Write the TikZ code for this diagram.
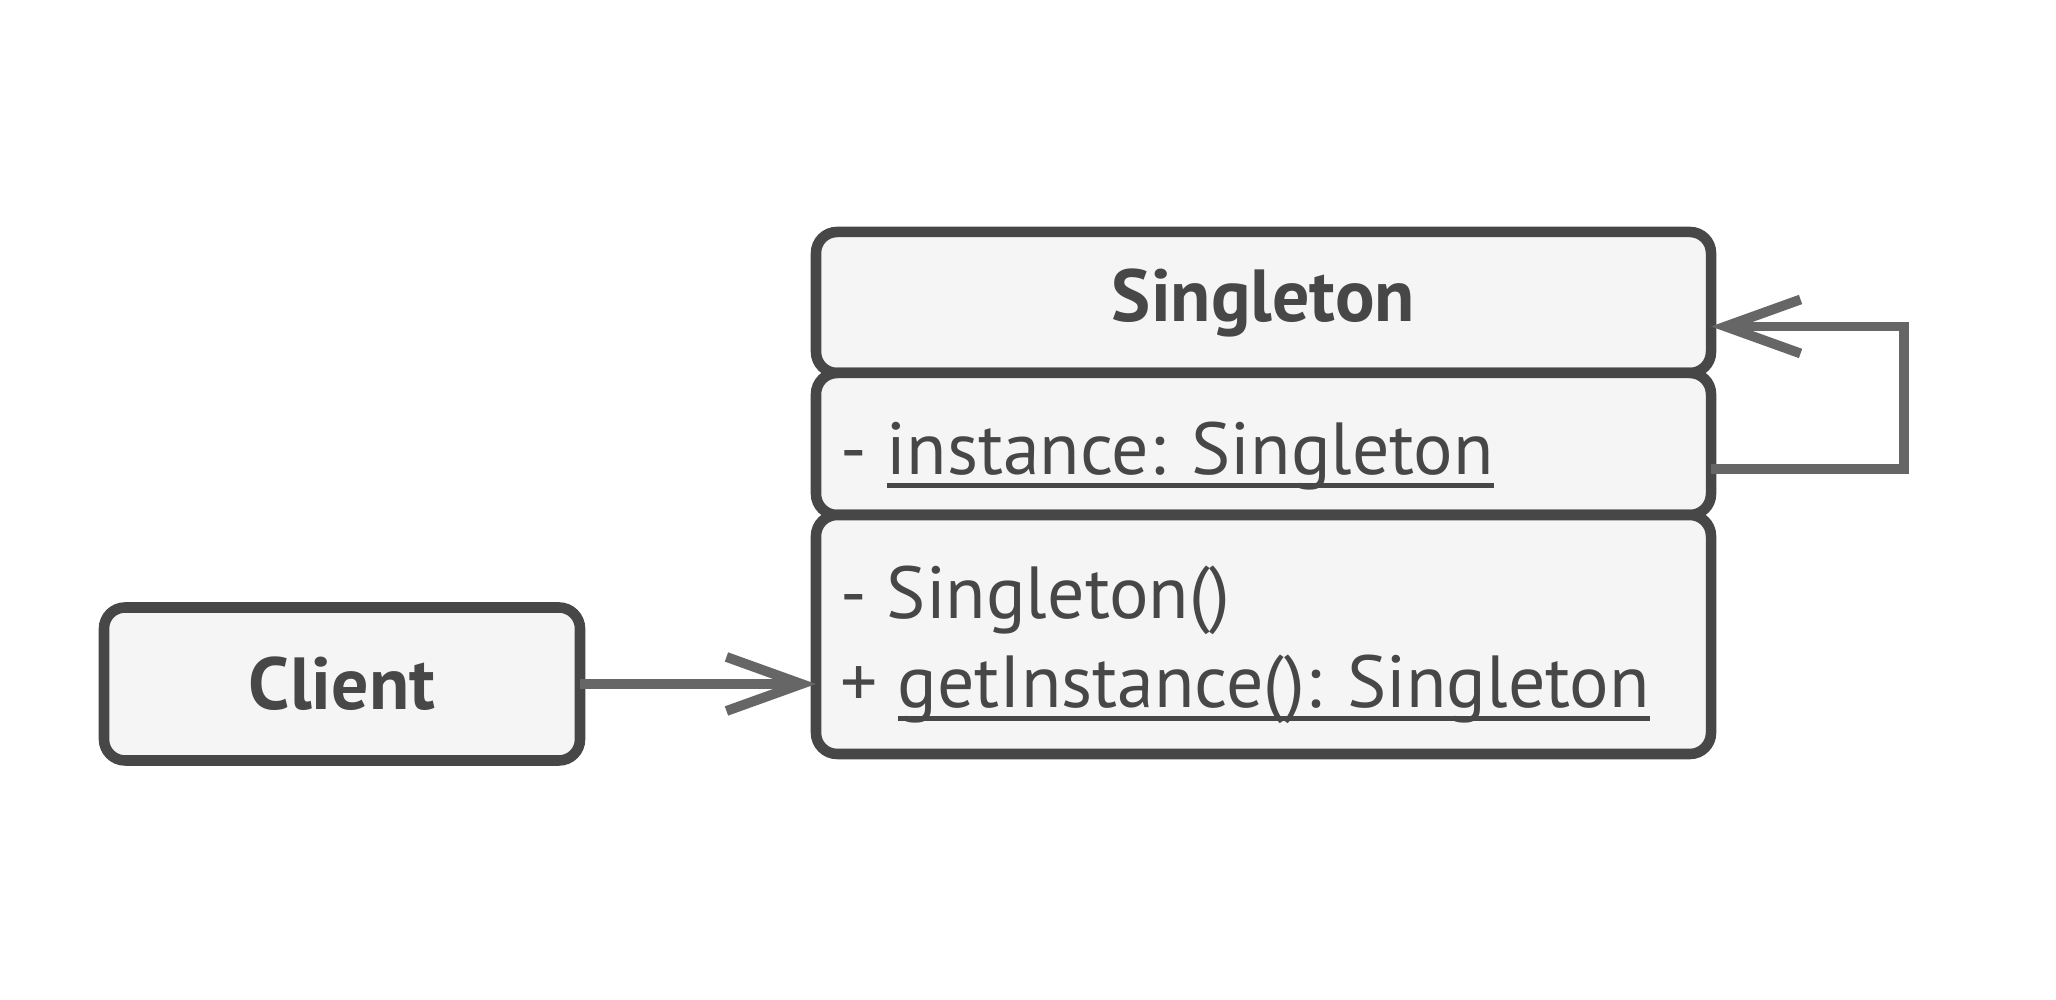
\documentclass[tikz,border=0pt]{standalone}
\usepackage{fontspec}
\setmainfont{PT Sans}
\usetikzlibrary{positioning,arrows.meta}
\newcommand\staticline[1]{\setbox0\hbox{#1}\rlap{\rule[-0.18em]{\wd0}{0.07em}}\box0}

\begin{document}
\begin{tikzpicture}[
    font=\fontsize{21}{25}\selectfont,
    box/.style={draw=boxLine, fill=boxFill, text=boxText, line width=3pt,
      rounded corners=6pt, outer sep=0pt, inner sep=0pt},
    member/.style={anchor=base west, text=boxText, inner sep=0pt},
    link/.style={draw=linkLine, line width=2.8pt,
      -{Straight Barb[length=7.5mm,width=5.4mm,line width=2.8pt]}},
    node distance=0cm]
                \def\boxwidth{8.95cm}
                \colorlet{boxLine}{black!72}
                \colorlet{boxFill}{black!4}
                \colorlet{boxText}{black!72}
                \colorlet{linkLine}{black!60}
                \useasboundingbox[fill=white] (0,0) rectangle (20.56,10);
                \node[box, minimum width=\boxwidth, minimum height=1.41cm] (title) at (12.635,6.975) {\bfseries Singleton};
                \node[box, minimum width=\boxwidth, minimum height=1.42cm, below=of title] (fields) {};
                \node[box, minimum width=\boxwidth, minimum height=2.39cm, below=of fields] (methods) {};
                \node[member] (instance) at (8.40,5.25) {- \staticline{instance: Singleton}};
                \node[member] (ctor) at (8.40,3.81) {- Singleton()};
                \node[member] (getter) at (8.40,2.92) {+ \staticline{getInstance(): Singleton}};
                \node[box, minimum width=4.76cm, minimum height=1.53cm] (client) at (3.42,3.16) {\bfseries Client};
                \draw[link] (client.east) -- (client.east -| methods.west);
                \draw[link] ([yshift=-2.5mm]fields.east) -- ++(1.93,0) |- ([yshift=-2.4mm]title.east);
              \end{tikzpicture}
\end{document}
